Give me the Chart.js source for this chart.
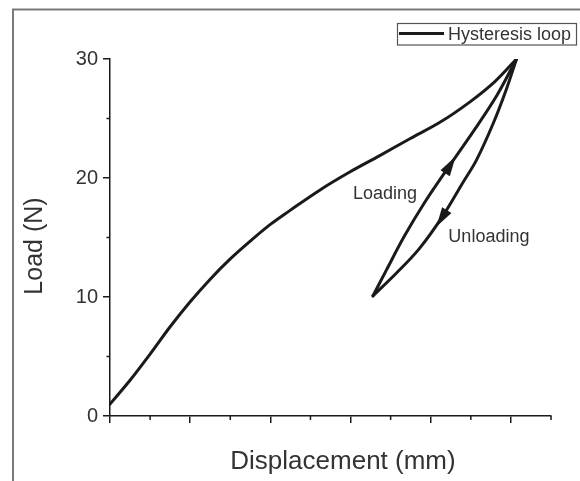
<!DOCTYPE html>
<html>
<head>
<meta charset="utf-8">
<script src="https://cdn.jsdelivr.net/npm/chart.js@4.4.0/dist/chart.umd.min.js"></script>
<style>
  html, body { margin: 0; padding: 0; background: #fff; }
</style>
</head>
<body>
<canvas id="loopChart" width="580" height="481"></canvas>
<script>
// ====== Data ======
// first loading curve, 0 -> peak
const outerX = [0.00, 0.25, 0.50, 0.75, 1.00, 1.25, 1.50, 1.75, 2.00, 2.25, 2.62, 2.99, 3.37, 3.74, 4.12, 4.49, 4.80, 5.07];
const outerY = [1.0, 3.0, 5.2, 7.5, 9.6, 11.5, 13.2, 14.7, 16.1, 17.3, 19.0, 20.5, 21.9, 23.3, 24.7, 26.4, 28.1, 30.0];
// unloading branch, peak -> bottom of the loop
const unloadX = [5.07, 4.94, 4.78, 4.57, 4.40, 4.15, 3.85, 3.57, 3.28];
const unloadY = [30.0, 27.4, 24.6, 21.5, 19.6, 16.8, 14.0, 12.0, 10.1];
// reloading branch, bottom of the loop -> peak
const reloadX = [3.28, 3.45, 3.67, 3.92, 4.20, 4.54, 4.83, 5.07];
const reloadY = [10.1, 12.3, 15.1, 17.9, 20.7, 24.0, 27.0, 30.0];

const yTicks = [0, 10, 20, 30];
const yMinorTicks = [5, 15, 25];
const xTicks = [0, 1, 2, 3, 4, 5];
const xMinorTicks = [0.5, 1.5, 2.5, 3.5, 4.5, 5.5];

const seriesName = 'Hysteresis loop';
const xTitle = 'Displacement (mm)';
const yTitle = 'Load (N)';

// annotation anchors, in data units
const arrowTips = [[4.31, 21.8], [4.07, 15.9]];
const arrowBases = [[4.18, 20.4], [4.20, 17.3]];
const noteText = ['Loading', 'Unloading'];
const noteAt = [[3.03, 18.2], [4.22, 14.6]];

// ===== Style =====
const FONT = '"Liberation Sans", Arial, Helvetica, sans-serif';
const INK = '#1a1a1a';
const TEXT = '#333';

Chart.defaults.font.family = FONT;

const toPoints = (xs, ys) => xs.map((x, i) => ({ x: x, y: ys[i] }));

const lineStyle = {
    borderColor: INK,
    borderWidth: 3,
    pointRadius: 0,
    showLine: true,
    fill: false,
    tension: 0.35,
    borderCapStyle: 'round',
    borderJoinStyle: 'round'
};

function drawArrow(ctx, tip, base, halfW) {
    const dx = tip.x - base.x, dy = tip.y - base.y;
    const len = Math.hypot(dx, dy);
    const nx = -dy / len, ny = dx / len;
    ctx.beginPath();
    ctx.moveTo(tip.x, tip.y);
    ctx.lineTo(base.x + nx * halfW, base.y + ny * halfW);
    ctx.lineTo(base.x - nx * halfW, base.y - ny * halfW);
    ctx.closePath();
    ctx.fill();
}

// frame, legend, minor ticks, arrows and notes
const decorations = {
    id: 'decorations',
    afterDraw(chart) {
        const ctx = chart.ctx;
        const xs = chart.scales.x, ys = chart.scales.y;
        const area = chart.chartArea;
        ctx.save();

        // outer frame (only left and top edges are inside the picture)
        ctx.strokeStyle = '#7a7a7a';
        ctx.lineWidth = 2;
        ctx.beginPath();
        ctx.moveTo(13, 490);
        ctx.lineTo(13, 9.5);
        ctx.lineTo(590, 9.5);
        ctx.stroke();

        // minor ticks
        ctx.strokeStyle = INK;
        ctx.lineWidth = 1.5;
        ctx.beginPath();
        yMinorTicks.forEach(v => {
            const y = ys.getPixelForValue(v);
            ctx.moveTo(area.left, y);
            ctx.lineTo(area.left - 3.5, y);
        });
        xMinorTicks.forEach(v => {
            const x = xs.getPixelForValue(v);
            ctx.moveTo(x, area.bottom);
            ctx.lineTo(x, area.bottom + 4);
        });
        ctx.stroke();

        // arrows on the loop
        ctx.fillStyle = INK;
        arrowTips.forEach((t, i) => {
            const tip = { x: xs.getPixelForValue(t[0]), y: ys.getPixelForValue(t[1]) };
            const b = arrowBases[i];
            const base = { x: xs.getPixelForValue(b[0]), y: ys.getPixelForValue(b[1]) };
            drawArrow(ctx, tip, base, 5.5);
        });

        // notes
        ctx.fillStyle = TEXT;
        ctx.font = '18px ' + FONT;
        ctx.textAlign = 'left';
        ctx.textBaseline = 'alphabetic';
        noteText.forEach((txt, i) => {
            ctx.fillText(txt, xs.getPixelForValue(noteAt[i][0]), ys.getPixelForValue(noteAt[i][1]));
        });

        // axis titles
        ctx.textAlign = 'center';
        ctx.textBaseline = 'middle';
        ctx.font = '26px ' + FONT;
        ctx.fillText(xTitle, 343, 462);
        ctx.font = '25px ' + FONT;
        ctx.save();
        ctx.translate(35, 246);
        ctx.rotate(-Math.PI / 2);
        ctx.fillText(yTitle, 0, 0);
        ctx.restore();

        // legend box
        ctx.strokeStyle = '#555';
        ctx.lineWidth = 1.2;
        ctx.strokeRect(397.5, 23.5, 179, 21.5);
        ctx.strokeStyle = INK;
        ctx.lineWidth = 3;
        ctx.beginPath();
        ctx.moveTo(399, 33.5);
        ctx.lineTo(444, 33.5);
        ctx.stroke();
        ctx.fillStyle = TEXT;
        ctx.font = '18px ' + FONT;
        ctx.textAlign = 'left';
        ctx.textBaseline = 'alphabetic';
        ctx.fillText(seriesName, 448, 40);

        ctx.restore();
    }
};

// ===== Chart =====
const ctx = document.getElementById('loopChart').getContext('2d');
new Chart(ctx, {
    type: 'scatter',
    data: {
        datasets: [
            { label: seriesName, data: toPoints(outerX, outerY), ...lineStyle },
            { label: 'Unloading', data: toPoints(unloadX, unloadY), ...lineStyle },
            { label: 'Loading', data: toPoints(reloadX, reloadY), ...lineStyle }
        ]
    },
    options: {
        responsive: false,
        animation: false,
        layout: { padding: { left: 0, right: 29, top: 59, bottom: 0 } },
        plugins: {
            legend: { display: false },
            tooltip: { enabled: false }
        },
        scales: {
            x: {
                type: 'linear',
                min: 0,
                max: 5.5,
                afterBuildTicks: (s) => { s.ticks = xTicks.map(v => ({ value: v })); },
                afterFit: (s) => { s.height = 65; },
                ticks: { callback: () => '' },
                grid: { drawOnChartArea: false, drawTicks: true, tickLength: 7, color: INK, lineWidth: 1.5 },
                border: { display: true, color: INK, width: 1.5 }
            },
            y: {
                type: 'linear',
                min: 0,
                max: 30,
                afterBuildTicks: (s) => { s.ticks = yTicks.map(v => ({ value: v })); },
                afterFit: (s) => { s.width = 110; },
                ticks: { color: TEXT, font: { size: 20 }, padding: 5 },
                grid: { drawOnChartArea: false, drawTicks: true, tickLength: 7, color: INK, lineWidth: 1.5 },
                border: { display: true, color: INK, width: 1.5 }
            }
        }
    },
    plugins: [decorations]
});
</script>
</body>
</html>
